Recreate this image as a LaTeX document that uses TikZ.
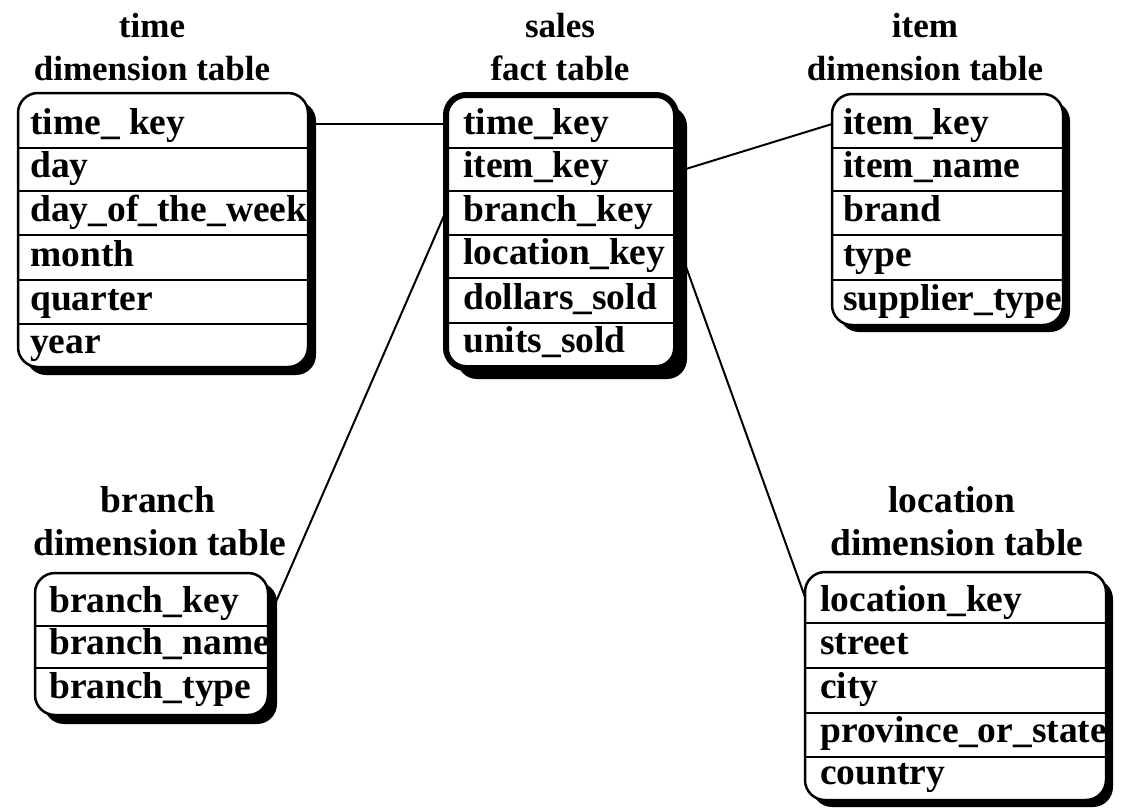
\documentclass[tikz,border=0pt]{standalone}
\usepackage{fontspec}
\setmainfont{Liberation Serif}
\usetikzlibrary{shadows,backgrounds}
\begin{document}
\begin{tikzpicture}[x=1pt,y=-1pt,
 tbl/.style={draw, fill=white, rounded corners=20pt, line width=2.5pt, inner sep=0pt, outer sep=0pt, anchor=north west,
   drop shadow={shadow xshift=#1, shadow yshift=-#1, fill=black, opacity=1}},
 tbl/.default=8pt,
 facttbl/.style={tbl=11pt, line width=6pt},
 rowline/.style={line width=1.5pt},
 rowtxt/.style={anchor=base west, inner sep=0pt, font=\bfseries\fontsize{37.5}{40}\selectfont},
 toptitle/.style={anchor=base, inner sep=0pt, font=\bfseries\fontsize{35}{40}\selectfont},
 bottitle/.style={anchor=base, inner sep=0pt, font=\bfseries\fontsize{37.5}{40}\selectfont},
 link/.style={line width=2pt}]
\useasboundingbox (0,0) rectangle (1121,807);

% ---------- titles ----------
\node[toptitle] (timeT1) at (152,37) {time};
\node[toptitle] (timeT2) at (152,80) {dimension table};
\node[toptitle] (salesT1) at (560,37) {sales};
\node[toptitle] (salesT2) at (560,80) {fact table};
\node[toptitle] (itemT1) at (925,37) {item};
\node[toptitle] (itemT2) at (925,80) {dimension table};
\node[bottitle] (branchT1) at (158,512) {branch};
\node[bottitle] (branchT2) at (160,555) {dimension table};
\node[bottitle] (locT1) at (952,512) {location};
\node[bottitle] (locT2) at (957,555) {dimension table};

% ---------- time table ----------
\node[tbl=8pt, minimum width=290pt, minimum height=274pt] (time) at (18,93) {};
\foreach \y in {148,191,235,280,324}
  \draw[rowline] (time.west |- 0,\y) -- (time.east |- 0,\y);
\begin{scope}
\clip[rounded corners=19pt] (19,94) rectangle (307,366);
\node[rowtxt] (time1) at (30,134) {time\_ key};
\node[rowtxt] (time2) at (30,177) {day};
\node[rowtxt] (time3) at (30,221) {day\_of\_the\_week};
\node[rowtxt] (time4) at (30,266) {month};
\node[rowtxt] (time5) at (30,310) {quarter};
\node[rowtxt] (time6) at (30,353) {year};
\end{scope}

% ---------- sales table ----------
\node[facttbl, minimum width=230pt, minimum height=273pt] (sales) at (446,95) {};
\foreach \y in {148,191,235,278,323}
  \draw[rowline] (sales.west |- 0,\y) -- (sales.east |- 0,\y);
\begin{scope}
\clip[rounded corners=17pt] (449,98) rectangle (673,365);
\node[rowtxt] (sales1) at (463,134) {time\_key};
\node[rowtxt] (sales2) at (463,177) {item\_key};
\node[rowtxt] (sales3) at (463,221) {branch\_key};
\node[rowtxt] (sales4) at (463,264) {location\_key};
\node[rowtxt] (sales5) at (463,309) {dollars\_sold};
\node[rowtxt] (sales6) at (463,352) {units\_sold};
\end{scope}

% ---------- item table ----------
\node[tbl=7pt, minimum width=231pt, minimum height=231pt] (item) at (832,94) {};
\foreach \y in {148,191,235,280}
  \draw[rowline] (item.west |- 0,\y) -- (item.east |- 0,\y);
\begin{scope}
\clip[rounded corners=19pt] (833,95) rectangle (1062,324);
\node[rowtxt] (item1) at (843,134) {item\_key};
\node[rowtxt] (item2) at (843,177) {item\_name};
\node[rowtxt] (item3) at (843,221) {brand};
\node[rowtxt] (item4) at (843,266) {type};
\node[rowtxt] (item5) at (843,310) {supplier\_type};
\end{scope}

% ---------- branch table ----------
\node[tbl=9pt, minimum width=233pt, minimum height=142pt] (branch) at (35,573) {};
\foreach \y in {626,668}
  \draw[rowline] (branch.west |- 0,\y) -- (branch.east |- 0,\y);
\begin{scope}
\clip[rounded corners=19pt] (36,574) rectangle (267,714);
\node[rowtxt] (branch1) at (49,612) {branch\_key};
\node[rowtxt] (branch2) at (49,654) {branch\_name};
\node[rowtxt] (branch3) at (49,698) {branch\_type};
\end{scope}

% ---------- location table ----------
\node[tbl=7pt, minimum width=301pt, minimum height=228pt] (location) at (805,572) {};
\foreach \y in {623,668,713,757}
  \draw[rowline] (location.west |- 0,\y) -- (location.east |- 0,\y);
\begin{scope}
\clip[rounded corners=19pt] (806,573) rectangle (1105,799);
\node[rowtxt] (loc1) at (820,611) {location\_key};
\node[rowtxt] (loc2) at (820,654) {street};
\node[rowtxt] (loc3) at (820,698) {city};
\node[rowtxt] (loc4) at (820,742) {province\_or\_state};
\node[rowtxt] (loc5) at (820,784) {country};
\end{scope}

% ---------- connectors ----------
\begin{scope}[on background layer]
\draw[link] (time.east |- 0,124) -- (sales.west |- 0,124);
\draw[link] (sales.east |- 0,172) -- (item.west |- 0,124);
\draw[link] (sales.west |- 0,211) -- (branch.east |- 0,620);
\draw[link] (sales.east |- 0,239) -- (location.west |- 0,597);
\end{scope}
\end{tikzpicture}
\end{document}
